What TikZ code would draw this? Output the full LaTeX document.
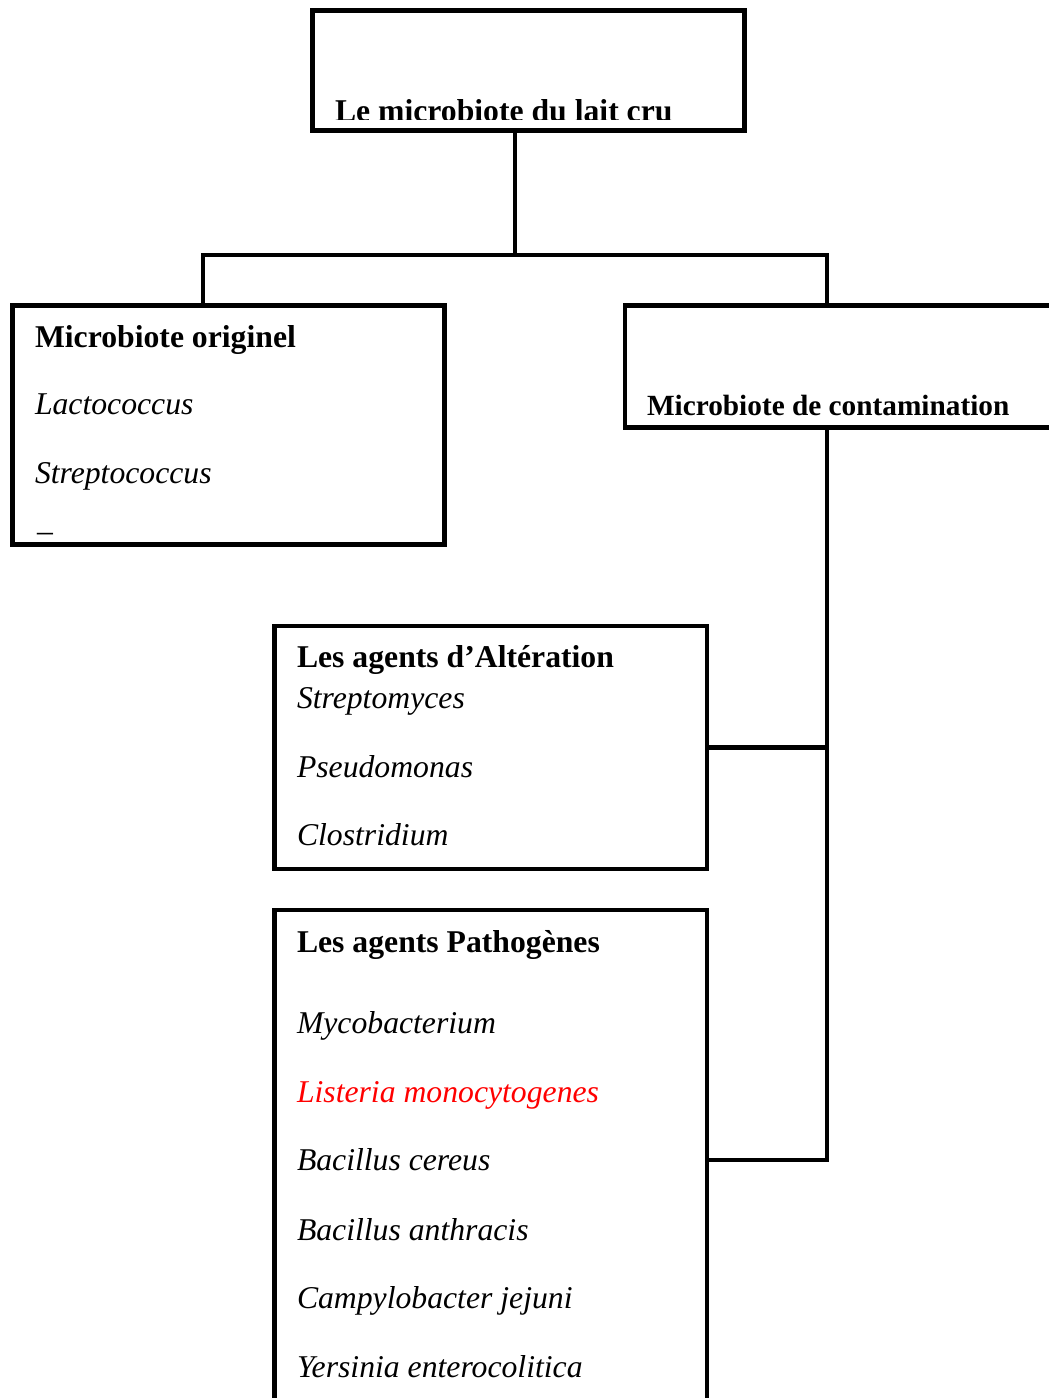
\documentclass[tikz,border=0pt]{standalone}
\usepackage{fontspec}
\setmainfont{Liberation Serif}
\begin{document}
\begin{tikzpicture}[x=1pt,y=-1pt,
  box/.style={draw=black,line width=4.5pt,rectangle,inner sep=0pt,outer sep=0pt,anchor=north west},
  conn/.style={draw=black,line width=4.5pt},
  lbl/.style={anchor=base west,inner sep=0pt,outer sep=0pt,font=\fontsize{31.7}{38}\selectfont},
  hd/.style={lbl,font=\fontsize{31.7}{38}\selectfont\bfseries},
  sp/.style={lbl,font=\fontsize{31.7}{38}\selectfont\itshape}]
\useasboundingbox (0,0) rectangle (1049,1398);
\clip (0,0) rectangle (1049,1398);
% boxes
\node[box,minimum width=432pt,minimum height=120pt] (top) at (312.5,10.5) {};
\node[box,minimum width=432pt,minimum height=239pt] (orig) at (12.5,305.5) {};
\node[box,minimum width=445pt,minimum height=122pt] (cont) at (625,305.5) {};
\node[box,minimum width=432.5pt,minimum height=243pt] (alt) at (274.5,626) {};
\node[box,minimum width=432.5pt,minimum height=520pt] (path) at (274.5,910) {};
% connectors
\coordinate (j) at (515,255);
\coordinate (bl) at (203,255);
\coordinate (br) at (827,255);
\coordinate (vb) at (827,1160);
\draw[conn] (top.south -| j) -- (j);
\draw[conn,line cap=rect] (bl |- orig.north) -- (bl) -- (br) -- (br |- cont.north);
\draw[conn] (br |- cont.south) -- (vb) -- (vb -| path.east);
\draw[conn] (alt.east) -- (alt.east -| vb);
% texts
\begin{scope}
\clip (312,0) rectangle (745,119.5);
\node[hd] (ttop) at (335,121.5) {Le microbiote du lait cru};
\end{scope}
\node[hd] (torig) at (35,347) {Microbiote originel};
\node[sp] (lacto) at (35,414) {Lactococcus};
\node[sp] (strepto) at (35,483) {Streptococcus};
\node[lbl] (dash) at (37,541) {–};
\node[hd,font=\fontsize{29.3}{35}\selectfont\bfseries] (tcont) at (647,415) {Microbiote de contamination};
\node[hd] (talt) at (297,667) {Les agents d’Altération};
\node[sp] (smyc) at (297,708) {Streptomyces};
\node[sp] (pseu) at (297,777) {Pseudomonas};
\node[sp] (clos) at (297,845) {Clostridium};
\node[hd] (tpath) at (297,952) {Les agents Pathogènes};
\node[sp] (myco) at (297,1033) {Mycobacterium};
\node[sp,text=red] (list) at (297,1102) {Listeria monocytogenes};
\node[sp] (bcer) at (297,1170) {Bacillus cereus};
\node[sp] (bant) at (297,1240) {Bacillus anthracis};
\node[sp] (camp) at (297,1308) {Campylobacter jejuni};
\node[sp] (yers) at (297,1377) {Yersinia enterocolitica};
\end{tikzpicture}
\end{document}
